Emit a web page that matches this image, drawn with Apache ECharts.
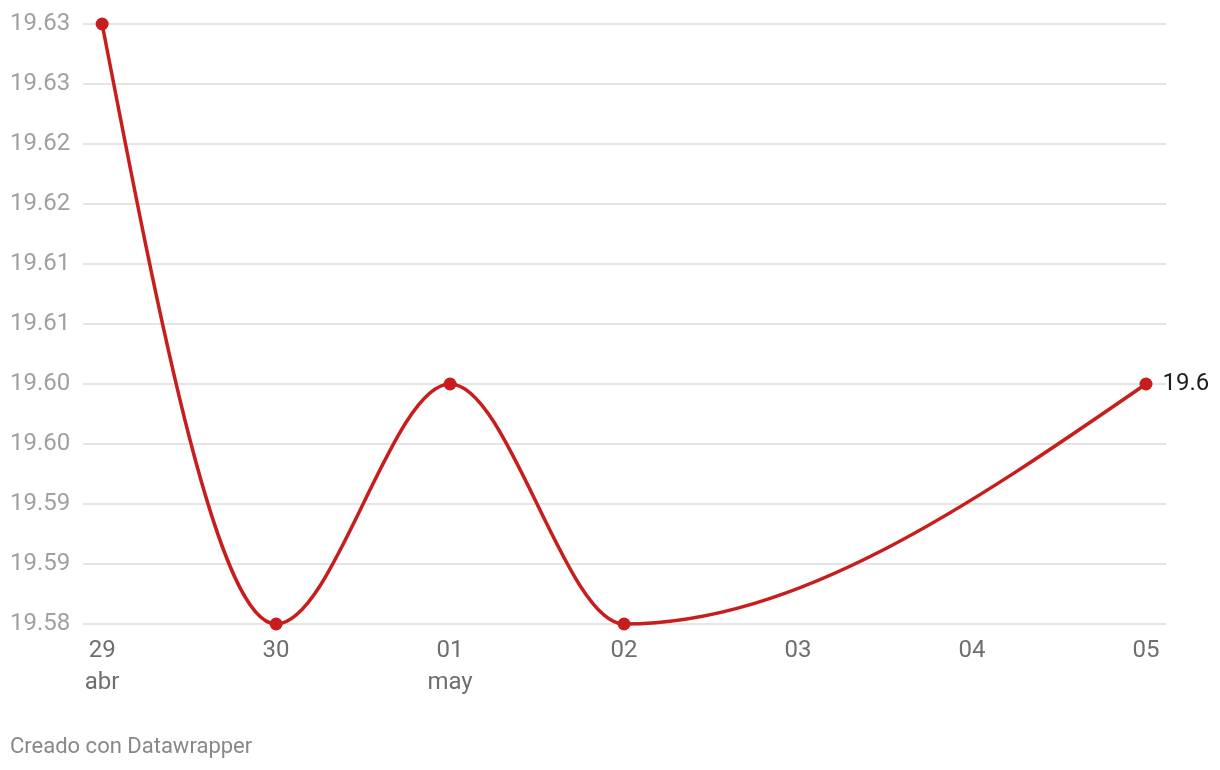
<!DOCTYPE html>
<html>
<head>
<meta charset="utf-8">
<script src="https://cdn.jsdelivr.net/npm/echarts@6/dist/echarts.min.js"></script>
<style>
html,body{margin:0;padding:0;background:#fff;}
#chart{width:1220px;height:770px;}
</style>
</head>
<body>
<div id="chart"></div>
<script>
// Day index (0 = 29 abr) and values
const dayIndex = [0, 1, 2, 3, 6];
const values = [19.63, 19.58, 19.60, 19.58, 19.60];
// X tick labels (one per day)
const xTickDays = ['29', '30', '01', '02', '03', '04', '05'];
const xTickMonths = ['abr', '', 'may', '', '', '', ''];
// Y tick labels, bottom to top
const yTickValues = [19.58, 19.585, 19.59, 19.595, 19.60, 19.605, 19.61, 19.615, 19.62, 19.625, 19.63];
const yTickLabels = ['19.58', '19.59', '19.59', '19.60', '19.60', '19.61', '19.61', '19.62', '19.62', '19.63', '19.63'];
const endLabel = '19.6';
const credit = 'Creado con Datawrapper';

const FONT = 'Roboto, "Noto Sans", sans-serif';
const RED = '#c71e1d';

const points = dayIndex.map((d, i) => [d, values[i]]);

// Monotone-X cubic (as used by d3.curveMonotoneX) through pixel points from the axes
function monotoneCurves(px) {
  const n = px.length;
  const sgn = (v) => (v < 0 ? -1 : 1);
  const m = new Array(n).fill(0);
  for (let i = 1; i < n - 1; i++) {
    const h0 = px[i][0] - px[i - 1][0], h1 = px[i + 1][0] - px[i][0];
    const s0 = (px[i][1] - px[i - 1][1]) / h0, s1 = (px[i + 1][1] - px[i][1]) / h1;
    const p = (s0 * h1 + s1 * h0) / (h0 + h1);
    m[i] = (sgn(s0) + sgn(s1)) * Math.min(Math.abs(s0), Math.abs(s1), 0.5 * Math.abs(p)) || 0;
  }
  const sFirst = (px[1][1] - px[0][1]) / (px[1][0] - px[0][0]);
  m[0] = (3 * sFirst - m[1]) / 2;
  const sLast = (px[n - 1][1] - px[n - 2][1]) / (px[n - 1][0] - px[n - 2][0]);
  m[n - 1] = (3 * sLast - m[n - 2]) / 2;
  const segs = [];
  for (let i = 0; i < n - 1; i++) {
    const dx = (px[i + 1][0] - px[i][0]) / 3;
    segs.push({
      x1: px[i][0], y1: px[i][1],
      cpx1: px[i][0] + dx, cpy1: px[i][1] + dx * m[i],
      cpx2: px[i + 1][0] - dx, cpy2: px[i + 1][1] - dx * m[i + 1],
      x2: px[i + 1][0], y2: px[i + 1][1]
    });
  }
  return segs;
}

const scatterData = points.map((p, i) => {
  const item = { value: p };
  if (i === points.length - 1) {
    item.label = {
      show: true, position: 'right', distance: 10,
      formatter: endLabel,
      color: '#1d1d1d', fontSize: 24, fontFamily: FONT
    };
  }
  return item;
});

const chart = echarts.init(document.getElementById('chart'), null, { renderer: 'canvas' });
chart.setOption({
  animation: false,
  backgroundColor: '#fff',
  title: {
    text: credit, left: 10, top: 736, padding: 0,
    textStyle: { color: '#888', fontSize: 22, fontWeight: 'normal', fontFamily: FONT }
  },
  grid: { left: 83, right: 54, top: 24, bottom: 146, containLabel: false },
  xAxis: {
    type: 'value', min: -0.11, max: 6.115,
    axisLine: { show: false }, axisTick: { show: false },
    splitLine: { show: false },
    axisLabel: {
      customValues: xTickDays.map((_, i) => i),
      formatter: (v) => {
        const i = Math.round(v);
        return xTickMonths[i] ? xTickDays[i] + '\n' + xTickMonths[i] : xTickDays[i];
      },
      color: '#6e6e6e', fontSize: 24, fontFamily: FONT, lineHeight: 32,
      margin: 11, verticalAlign: 'top'
    }
  },
  yAxis: {
    type: 'value', min: yTickValues[0], max: yTickValues[yTickValues.length - 1], interval: 0.005,
    axisLine: { show: false }, axisTick: { show: false },
    splitLine: { show: true, lineStyle: { color: '#e5e5e5', width: 2 } },
    axisLabel: {
      formatter: (v) => {
        const i = Math.round((v - yTickValues[0]) / 0.005);
        return yTickLabels[i] !== undefined ? yTickLabels[i] : '';
      },
      align: 'left', margin: 73,
      color: '#a0a0a0', fontSize: 24, fontFamily: FONT
    }
  },
  series: [{
    type: 'custom',
    data: [points[0]],
    z: 2,
    silent: true,
    renderItem: (params, api) => {
      const px = points.map((p) => api.coord(p));
      const segs = monotoneCurves(px);
      return {
        type: 'group',
        children: segs.map((s) => ({
          type: 'bezierCurve',
          shape: s,
          style: { stroke: RED, lineWidth: 3.5, fill: null }
        }))
      };
    }
  }, {
    type: 'scatter',
    data: scatterData,
    z: 3,
    symbol: 'circle', symbolSize: 13,
    itemStyle: { color: RED, opacity: 1 },
    emphasis: { disabled: true }
  }]
});
</script>
</body>
</html>
